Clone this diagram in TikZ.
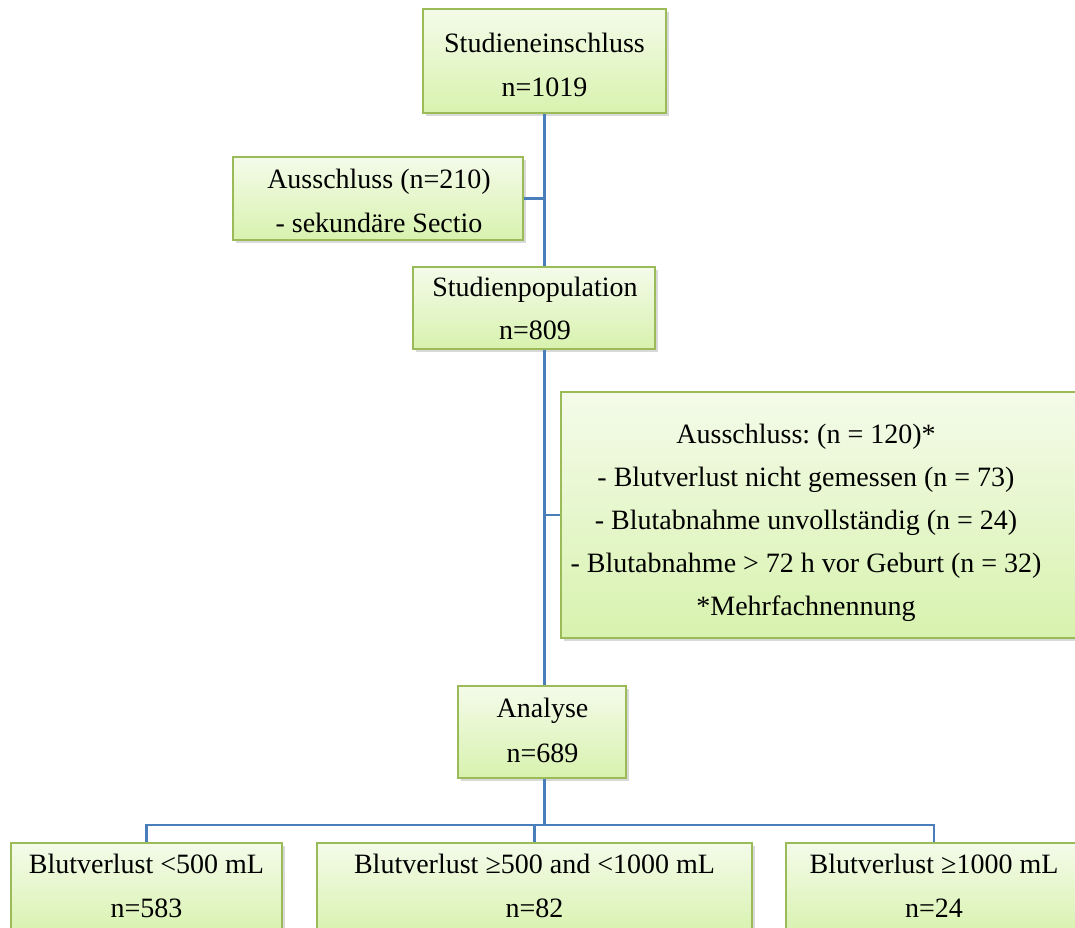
\documentclass[tikz,border=0pt]{standalone}
\usepackage{fontspec}
\setmainfont{Liberation Serif}
\usetikzlibrary{shadows}
\definecolor{boxborder}{HTML}{9BBB59}
\definecolor{boxtop}{HTML}{F4FBEA}
\definecolor{boxbottom}{HTML}{D8F2AE}
\definecolor{linkblue}{HTML}{4A7EBB}
\frenchspacing
\newcommand{\twoline}[3][44]{\fontsize{28}{#1}\selectfont\begin{tabular}[t]{@{}c@{}}#2\\#3\end{tabular}}
\tikzset{
  box/.style={draw=boxborder, line width=1.6pt, top color=boxtop, bottom color=boxbottom,
    rectangle, inner sep=0pt,
    drop shadow={opacity=0.3, shadow xshift=2.5pt, shadow yshift=-3pt}},
  txt/.style={anchor=base, inner sep=0pt, font=\fontsize{28}{44}\selectfont},
  link/.style={draw=linkblue, line width=2.2pt}
}
\begin{document}
\begin{tikzpicture}[x=1pt,y=-1pt]
\useasboundingbox (0,0) rectangle (1075,927);
% boxes
\node[box, minimum width=243pt, minimum height=104pt] (top) at (544.5,61) {};
\node[box, minimum width=290pt, minimum height=83pt] (excl) at (378,198.5) {};
\node[box, minimum width=242pt, minimum height=82pt] (pop) at (534,308) {};
\node[box, minimum width=524pt, minimum height=246pt] (big) at (823,515) {};
\node[box, minimum width=168pt, minimum height=92pt] (ana) at (542,732) {};
\node[box, minimum width=271pt, minimum height=92pt] (b1) at (146.5,889) {};
\node[box, minimum width=435pt, minimum height=92pt] (b2) at (534.5,889) {};
\node[box, minimum width=296pt, minimum height=92pt] (b3) at (934,889) {};
% texts
\node[txt] (ttop) at (544.5,52) {\twoline{Studieneinschluss}{n=1019}};
\node[txt] (texcl) at (379,188) {\twoline{Ausschluss (n=210)}{- sekundäre Sectio}};
\node[txt] (tpop) at (535,296) {\twoline[43]{Studienpopulation}{n=809}};
\node[txt] (tbig) at (806,443) {\fontsize{28}{43}\selectfont\begin{tabular}[t]{@{}c@{}}Ausschluss: (n = 120)*\\- Blutverlust nicht gemessen (n = 73)\\- Blutabnahme unvollständig (n = 24)\\- Blutabnahme > 72 h vor Geburt (n = 32)\\\relax *Mehrfachnennung\end{tabular}};
\node[txt] (tana) at (542.5,717) {\twoline[45]{Analyse}{n=689}};
\node[txt] (tb1) at (146.5,873) {\twoline{Blutverlust <500 mL}{n=583}};
\node[txt] (tb2) at (534.5,873) {\twoline{Blutverlust ≥500 and <1000 mL}{n=82}};
\node[txt] (tb3) at (934,873) {\twoline{Blutverlust ≥1000 mL}{n=24}};
% connectors
\coordinate (bus) at (544.5,825);
\draw[link] (top.south) -- (top.south |- pop.north);
\draw[link] (excl.east) -- (excl.east -| top.south);
\draw[link] (top.south |- pop.south) -- (top.south |- ana.north);
\draw[link] (big.west) -- (big.west -| top.south);
\draw[link] (top.south |- ana.south) -- (bus);
\draw[link] (b1.north) |- (bus);
\draw[link] (b3.north) |- (bus);
\draw[link] (b2.north) -- (b2.north |- bus);
\end{tikzpicture}
\end{document}
